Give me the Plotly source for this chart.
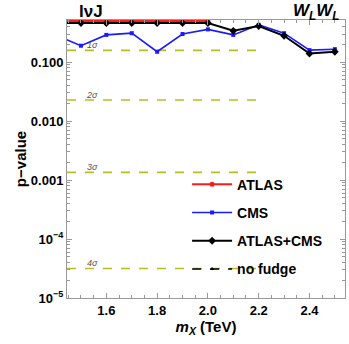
import math
import plotly.graph_objects as go

# mass points (TeV)
mass = [1.4, 1.5, 1.6, 1.7, 1.8, 1.9, 2.0, 2.1, 2.2, 2.3, 2.4, 2.5]
mass_atlas = [1.4, 1.5, 1.6, 1.7, 1.8, 1.9, 2.0]

p_atlas = [0.50, 0.50, 0.50, 0.50, 0.50, 0.50, 0.50]
p_cms = [0.29, 0.19, 0.29, 0.31, 0.15, 0.30, 0.36, 0.29, 0.43, 0.31, 0.16, 0.166]
p_comb = [0.46, 0.46, 0.46, 0.46, 0.46, 0.46, 0.46, 0.34, 0.41, 0.28, 0.14, 0.15]

# one-sided p-values of 1..4 sigma
sigma_labels = ["1σ", "2σ", "3σ", "4σ"]
sigma_p = [0.1587, 0.02275, 0.00135, 3.17e-5]
sigma_x = [1.445, 2.2]

ytick_vals = [1e-5, 1e-4, 1e-3, 1e-2, 1e-1]
ytick_text = ["10<sup>−5</sup>", "10<sup>−4</sup>", "0.001", "0.010", "0.100"]

fig = go.Figure()

for lab, p in zip(sigma_labels, sigma_p):
    fig.add_trace(go.Scatter(
        x=sigma_x, y=[p, p], mode="lines", showlegend=False, hoverinfo="skip",
        line=dict(color="#bcbc22", width=1.6, dash="dash"),
    ))
    fig.add_annotation(x=1.545, y=math.log10(p), text=f"<i>{lab}</i>", showarrow=False,
                       yanchor="bottom", yshift=-2,
                       font=dict(size=9, color="#555555"))

fig.add_trace(go.Scatter(
    x=mass_atlas, y=p_atlas, mode="lines+markers", name="<b>ATLAS</b>", legendgroup="a",
    line=dict(color="#ff1a1a", width=2),
    marker=dict(symbol="circle", size=5, color="#ff1a1a"),
))
fig.add_trace(go.Scatter(
    x=mass, y=p_cms, mode="lines+markers", name="<b>CMS</b>", legendgroup="b",
    line=dict(color="#1a1aff", width=1.6),
    marker=dict(symbol="square", size=4, color="#1a1aff"),
))
fig.add_trace(go.Scatter(
    x=mass, y=p_comb, mode="lines+markers", name="<b>ATLAS+CMS</b>", legendgroup="c",
    line=dict(color="black", width=2),
    marker=dict(symbol="diamond", size=6, color="black"),
))
fig.add_trace(go.Scatter(
    x=[None], y=[None], mode="lines+markers", name="<b>no fudge</b>", legendgroup="d",
    line=dict(color="black", width=1.5, dash="dash"),
    marker=dict(symbol="triangle-up", size=4, color="black"),
))

fig.add_annotation(x=0.035, y=1.0, xref="paper", yref="paper", text="<b>lνJ</b>",
                   showarrow=False, xanchor="left", yanchor="bottom", yshift=-3,
                   font=dict(size=17, color="black"))
fig.add_annotation(x=0.99, y=1.0, xref="paper", yref="paper",
                   text="<b><i>W<sub>L</sub>W<sub>L</sub></i></b>",
                   showarrow=False, xanchor="right", yanchor="bottom", yshift=-5,
                   font=dict(size=17, color="black"))

axis_common = dict(
    showline=True, linecolor="#999999", linewidth=1, mirror="ticks",
    ticks="inside", ticklen=5, tickcolor="#999999", showgrid=False, zeroline=False,
    automargin=False,
    tickfont=dict(size=13, color="black", family="Liberation Sans, Arial, sans-serif"),
)

fig.update_layout(
    width=349, height=344,
    margin=dict(l=67, r=4, t=20, b=46),
    paper_bgcolor="white", plot_bgcolor="white",
    font=dict(family="Liberation Sans, Arial, sans-serif", color="black"),
    xaxis=dict(
        range=[1.445, 2.54], tickvals=[1.6, 1.8, 2.0, 2.2, 2.4],
        ticktext=["<b>1.6</b>", "<b>1.8</b>", "<b>2.0</b>", "<b>2.2</b>", "<b>2.4</b>"],
        minor=dict(ticks="inside", ticklen=3, tickcolor="#999999", dtick=0.05, showgrid=False),
        title=dict(text="<b><i>m<sub>X</sub></i> (TeV)</b>", font=dict(size=15), standoff=3),
        **axis_common,
    ),
    yaxis=dict(
        type="log", range=[-5, -0.285], tickvals=ytick_vals,
        ticktext=[f"<b>{t}</b>" for t in ytick_text],
        minor=dict(ticks="inside", ticklen=3, tickcolor="#999999", showgrid=False,
                   tickmode="array",
                   tickvals=[m * 10 ** e for e in range(-5, 0) for m in range(2, 10)]),
        title=dict(text="<b>p−value</b>", font=dict(size=15), standoff=0),
        **axis_common,
    ),
    legend=dict(
        x=0.432, y=0.465, xanchor="left", yanchor="top", bgcolor="rgba(0,0,0,0)",
        font=dict(size=14), itemwidth=40, tracegroupgap=7, traceorder="grouped",
    ),
)

# drop the browser's default 8px body margin so the figure sits at the page corner
fig.write_html("out.html", config={"displayModeBar": False},
               post_script="document.body.style.margin='0';")
